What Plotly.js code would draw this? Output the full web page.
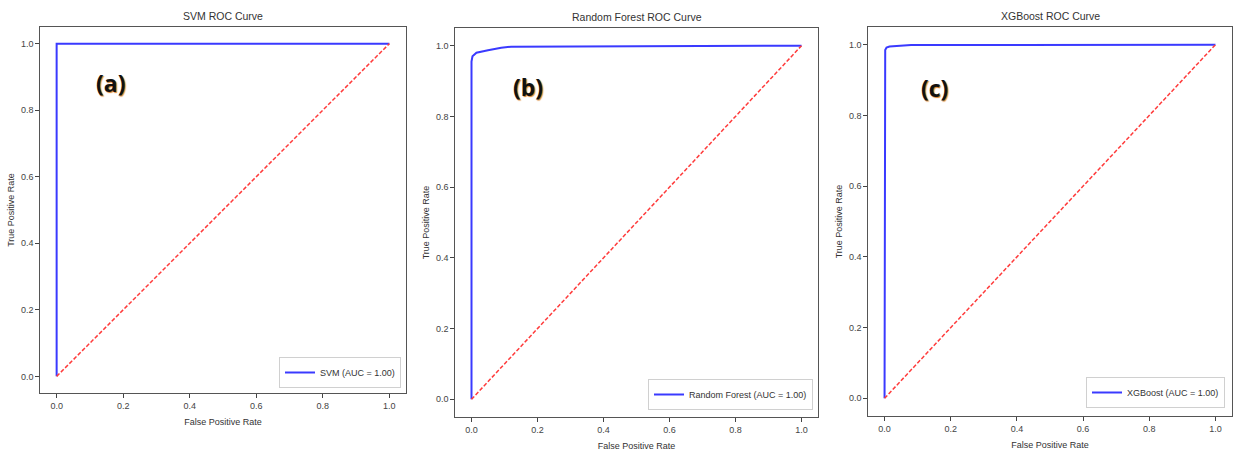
<!DOCTYPE html>
<html>
<head>
<meta charset="utf-8">
<script src="https://cdn.plot.ly/plotly-3.0.1.min.js"></script>
<style>html,body{margin:0;padding:0;background:#fff;}#chart{width:1236px;height:455px;}</style>
</head>
<body>
<div id="chart"></div>
<script>
// ---- data ----
const svmFPR = [0, 0, 1];
const svmTPR = [0, 1, 1];
const rfFPR = [0, 0, 0.003, 0.015, 0.05, 0.09, 0.12, 1];
const rfTPR = [0, 0.955, 0.97, 0.98, 0.987, 0.994, 0.997, 1];
const xgbFPR = [0, 0, 0.002, 0.006, 0.015, 0.08, 1];
const xgbTPR = [0, 0.975, 0.985, 0.992, 0.995, 0.999, 1];
const diagX = [0, 1];
const diagY = [0, 1];
const modelNames = ["SVM", "Random Forest", "XGBoost"];
const aucValues = ["1.00", "1.00", "1.00"];
const panelLabels = ["(a)", "(b)", "(c)"];
const tickVals = [0, 0.2, 0.4, 0.6, 0.8, 1.0];

const W = 1236, H = 455;
const px = v => v / W;
const py = v => 1 - v / H;

const blue = "#3a3aff";
const red = "#ff3b3b";
const fontFam = "Liberation Sans, Arial, sans-serif";

const curves = [[svmFPR, svmTPR], [rfFPR, rfTPR], [xgbFPR, xgbTPR]];
const traces = [];
curves.forEach((c, i) => {
  const s = i === 0 ? "" : String(i + 1);
  traces.push({
    x: c[0], y: c[1], type: "scatter", mode: "lines",
    name: modelNames[i] + " (AUC = " + aucValues[i] + ")",
    line: {color: blue, width: 2},
    xaxis: "x" + s, yaxis: "y" + s,
    legend: "legend" + s
  });
  traces.push({
    x: diagX, y: diagY, type: "scatter", mode: "lines",
    showlegend: false,
    line: {color: red, width: 1.5, dash: "4px,2px"},
    xaxis: "x" + s, yaxis: "y" + s
  });
});

// panel frames in pixels: [left, right, top, bottom]
const frames = [[40, 406, 27, 393], [455, 818, 28, 417], [868, 1232, 27, 416]];
const titles = ["SVM ROC Curve", "Random Forest ROC Curve", "XGBoost ROC Curve"];
const labelPos = [[110, 83], [528, 87], [934, 88]];
const legendPos = [[401, 388], [813, 410], [1225, 408]];

function axisBase() {
  return {
    range: [-0.05, 1.05], tickvals: tickVals, ticktext: tickVals.map(v => v.toFixed(1)),
    ticks: "outside", ticklen: 3.5, tickwidth: 1, tickcolor: "#444",
    showgrid: false, zeroline: false, showline: true, mirror: true,
    linecolor: "#555", linewidth: 1.2,
    tickfont: {family: fontFam, size: 9, color: "#444"},
    fixedrange: true, automargin: false
  };
}

const layout = {
  width: W, height: H,
  margin: {l: 0, r: 0, t: 0, b: 0},
  paper_bgcolor: "#fff", plot_bgcolor: "#fff",
  font: {family: fontFam, color: "#333"},
  annotations: [], showlegend: true
};

frames.forEach((f, i) => {
  const s = i === 0 ? "" : String(i + 1);
  const xa = axisBase();
  xa.domain = [px(f[0]), px(f[1])];
  xa.anchor = "y" + s;
  xa.title = {text: "False Positive Rate", font: {family: fontFam, size: 9, color: "#333"}, standoff: 9};
  const ya = axisBase();
  ya.domain = [py(f[3]), py(f[2])];
  ya.anchor = "x" + s;
  ya.title = {text: "True Positive Rate", font: {family: fontFam, size: 9, color: "#333"}, standoff: 4};
  layout["xaxis" + s] = xa;
  layout["yaxis" + s] = ya;

  layout.annotations.push({
    text: titles[i], xref: "paper", yref: "paper",
    x: px((f[0] + f[1]) / 2), y: py(f[2] - 11), xanchor: "center", yanchor: "middle",
    showarrow: false, font: {family: fontFam, size: 10.5, color: "#333"}
  });
  layout.annotations.push({
    text: "<b>" + panelLabels[i] + "</b>", xref: "paper", yref: "paper",
    x: px(labelPos[i][0]), y: py(labelPos[i][1]), xanchor: "center", yanchor: "middle",
    showarrow: false,
    font: {family: "Open Sans, sans-serif", size: 23, color: "#111", shadow: "1px 1px 1px #d9822b"}
  });

  layout["legend" + s] = {
    x: px(legendPos[i][0]), y: py(legendPos[i][1]), xanchor: "right", yanchor: "bottom",
    xref: "paper", yref: "paper",
    bgcolor: "rgba(255,255,255,0.9)", bordercolor: "#d0d0d0", borderwidth: 1,
    font: {family: fontFam, size: 9, color: "#333"},
    itemwidth: 30, tracegroupgap: 0
  };
});

Plotly.newPlot("chart", traces, layout, {staticPlot: true, displayModeBar: false});
</script>
</body>
</html>
